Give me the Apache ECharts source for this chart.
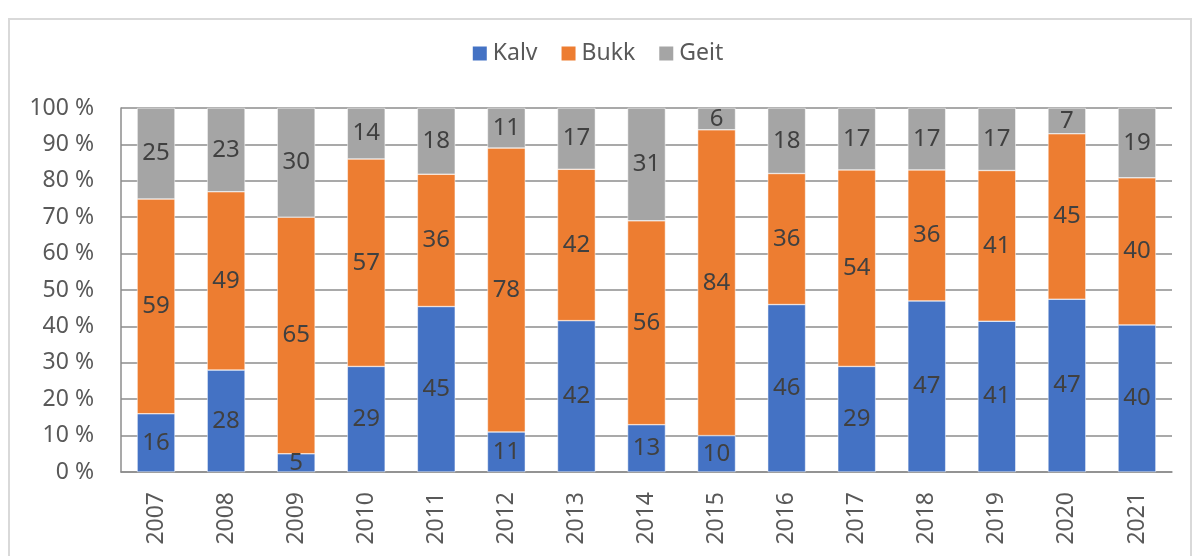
<!DOCTYPE html>
<html lang="no">
<head>
    <meta charset="UTF-8">
    <title>Kalv, bukk og geit</title>
    <script type="text/javascript" src="https://cdn.jsdelivr.net/npm/echarts@6/dist/echarts.min.js"></script>
    <style>
        html, body { margin: 0; padding: 0; background: #fff; }
        #frame { position: absolute; left: 8px; top: 18px; width: 1184px; height: 560px; border: 2px solid #d9d9d9; box-sizing: border-box; }
        #container { width: 1194px; height: 556px; position: absolute; left: 0; top: 0; }
    </style>
</head>
<body>
    <div id="frame"></div>
    <div id="container"></div>
<script>
    // årstall og andeler (tallene som står i stolpene)
    var years = ['2007','2008','2009','2010','2011','2012','2013','2014','2015','2016','2017','2018','2019','2020','2021'];
    var kalv = [16, 28, 5, 29, 45, 11, 42, 13, 10, 46, 29, 47, 41, 47, 40];
    var bukk = [59, 49, 65, 57, 36, 78, 42, 56, 84, 36, 54, 36, 41, 45, 40];
    var geit = [25, 23, 30, 14, 18, 11, 17, 31, 6, 18, 17, 17, 17, 7, 19];
    var yTicks = [0, 10, 20, 30, 40, 50, 60, 70, 80, 90, 100];

    var fontFam = '"Noto Sans", "Open Sans", sans-serif';

    // 100 % stablet: regn om til andel av summen for hvert år
    function toPct(arr) {
        return arr.map(function (v, i) {
            var sum = kalv[i] + bukk[i] + geit[i];
            return { value: v / sum * 100, raw: v };
        });
    }

    function makeSeries(name, arr, color) {
        return {
            name: name,
            type: 'bar',
            stack: 'total',
            barCategoryGap: '46%',
            data: toPct(arr),
            itemStyle: { color: color, borderColor: '#ffffff', borderWidth: 0.5 },
            label: {
                show: true,
                position: 'inside',
                color: '#404040',
                fontFamily: fontFam,
                fontSize: 24,
                formatter: function (p) { return p.data.raw; }
            }
        };
    }

    var myChart = echarts.init(document.getElementById('container'));
    var option = {
        animation: false,
        legend: {
            top: 37,
            left: 'center',
            itemWidth: 16,
            itemHeight: 16,
            itemGap: 22,
            icon: 'rect',
            textStyle: { color: '#595959', fontSize: 23, fontFamily: fontFam },
            data: ['Kalv', 'Bukk', 'Geit']
        },
        grid: { left: 121, right: 22, top: 108, bottom: 84, containLabel: false },
        xAxis: {
            type: 'category',
            data: years,
            axisTick: { show: false },
            axisLine: { lineStyle: { color: '#8c8c8c', width: 1.5 } },
            axisLabel: {
                rotate: 90,
                color: '#595959',
                fontSize: 23,
                fontFamily: fontFam,
                margin: 20
            }
        },
        yAxis: {
            type: 'value',
            min: 0,
            max: 100,
            interval: 10,
            axisLine: { show: true, lineStyle: { color: '#8c8c8c', width: 1.5 } },
            axisTick: { show: false },
            splitLine: { lineStyle: { color: '#8c8c8c', width: 1.5 } },
            axisLabel: {
                color: '#595959',
                fontSize: 23,
                fontFamily: fontFam,
                margin: 27,
                formatter: function (v) { return yTicks.indexOf(v) >= 0 ? v + ' %' : ''; }
            }
        },
        series: [
            makeSeries('Kalv', kalv, '#4472C4'),
            makeSeries('Bukk', bukk, '#ED7D31'),
            makeSeries('Geit', geit, '#A5A5A5')
        ]
    };
    myChart.setOption(option, true);
</script>
</body>
</html>
